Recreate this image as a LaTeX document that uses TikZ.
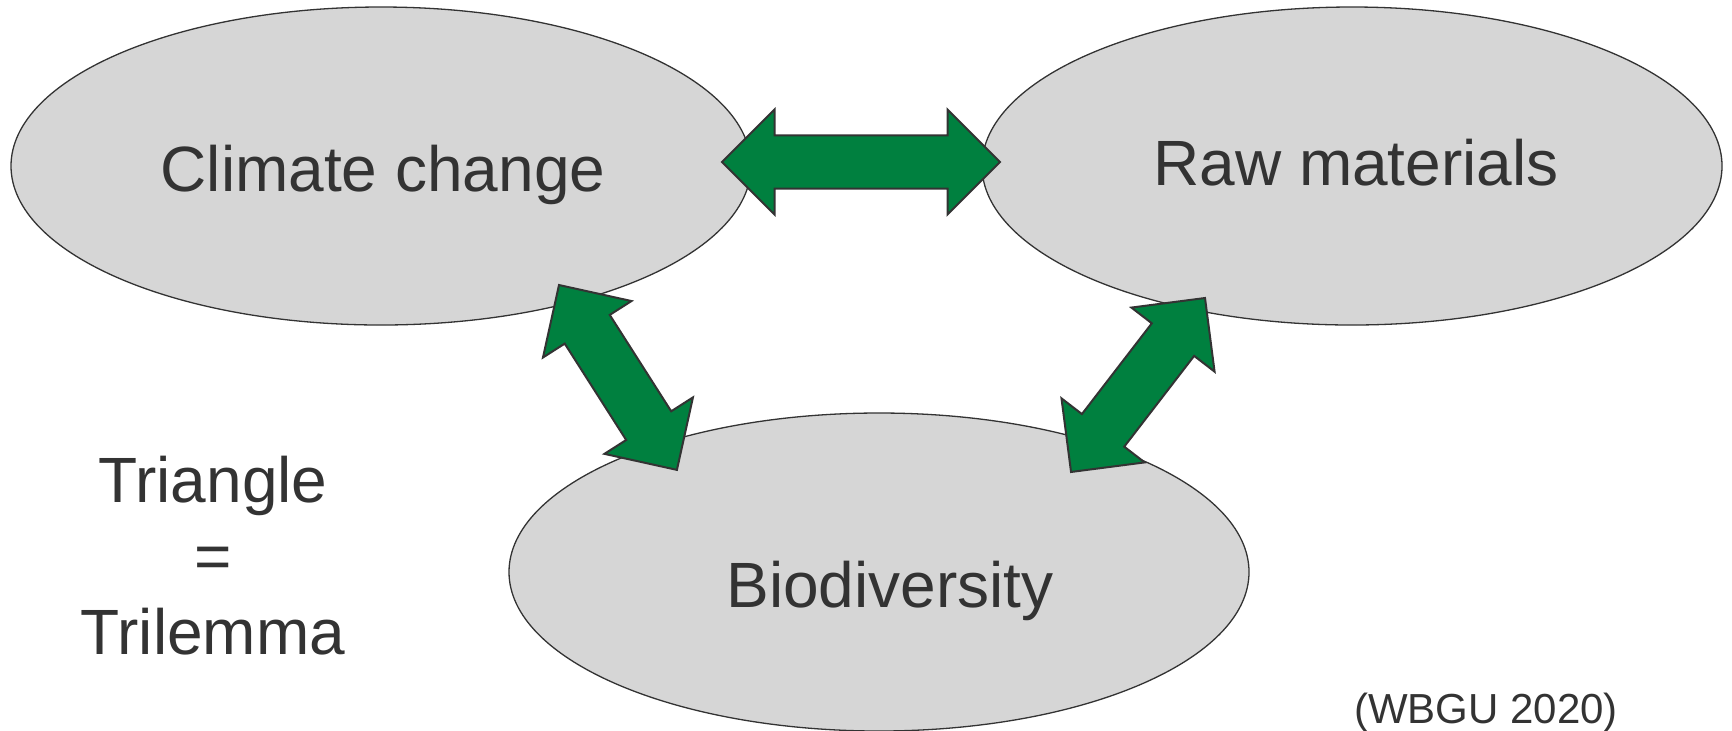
\documentclass[tikz,border=0pt]{standalone}
\usepackage{fontspec}
\setmainfont{Liberation Sans}
\usetikzlibrary{shapes.geometric,calc}

\definecolor{blobgray}{HTML}{D6D6D6}
\definecolor{linkgreen}{HTML}{00803F}
\definecolor{inkgray}{HTML}{333333}

% 双向粗箭头:从 #1 到 #2
\newcommand{\twoway}[2]{%
  \draw[twoway] let \p1=($(#2)-(#1)$), \n1={atan2(\y1,\x1)}, \n2={veclen(\x1,\y1)-52.5} in
    (#1) -- ++({\n1+45}:37.12pt) -- ++({\n1-90}:12.9pt) -- ++(\n1:\n2)
    -- ++({\n1+90}:12.9pt) -- ++({\n1-45}:37.12pt) -- ++({\n1-135}:37.12pt)
    -- ++({\n1+90}:12.9pt) -- ++({\n1+180}:\n2) -- ++({\n1-90}:12.9pt) -- cycle;}

\begin{document}
\begin{tikzpicture}[x=0.5pt,y=-0.5pt,
  blob/.style={ellipse, draw=inkgray, line width=0.65pt, fill=blobgray,
    minimum width=370pt, minimum height=159pt, inner sep=0pt},
  word/.style={text=inkgray, font=\fontsize{32}{38}\selectfont, inner sep=0pt},
  twoway/.style={draw=inkgray, line width=1pt, fill=linkgreen}]
\useasboundingbox (0,0) rectangle (1732,730);

% 三个椭圆
\node[blob] (climate) at (381,166) {};
\node[blob] (raw) at (1352,166) {};
\node[blob] (bio) at (879,572) {};

\node[word, anchor=base] (climate-lbl) at ([shift={(2,25)}]climate) {Climate change};
\node[word, anchor=base] (raw-lbl) at ([shift={(4,19)}]raw) {Raw materials};
\node[word, anchor=base] (bio-lbl) at ([shift={(11,35)}]bio) {Biodiversity};

% 箭头端点
\coordinate (climate-e) at (722,162);
\coordinate (raw-w) at (1000,162);
\coordinate (climate-s) at (559,285);
\coordinate (bio-nw) at (677,470);
\coordinate (raw-s) at (1205,298);
\coordinate (bio-ne) at (1071,472);

\twoway{climate-e}{raw-w}
\twoway{climate-s}{bio-nw}
\twoway{raw-s}{bio-ne}

% 左下角说明与出处
\node[word, align=center] (trilemma) at (213,556) {Triangle\\=\\Trilemma};
\node[text=inkgray, font=\fontsize{21}{25}\selectfont, inner sep=0pt, anchor=base]
  (source) at (1486,723) {(WBGU 2020)};
\end{tikzpicture}
\end{document}
